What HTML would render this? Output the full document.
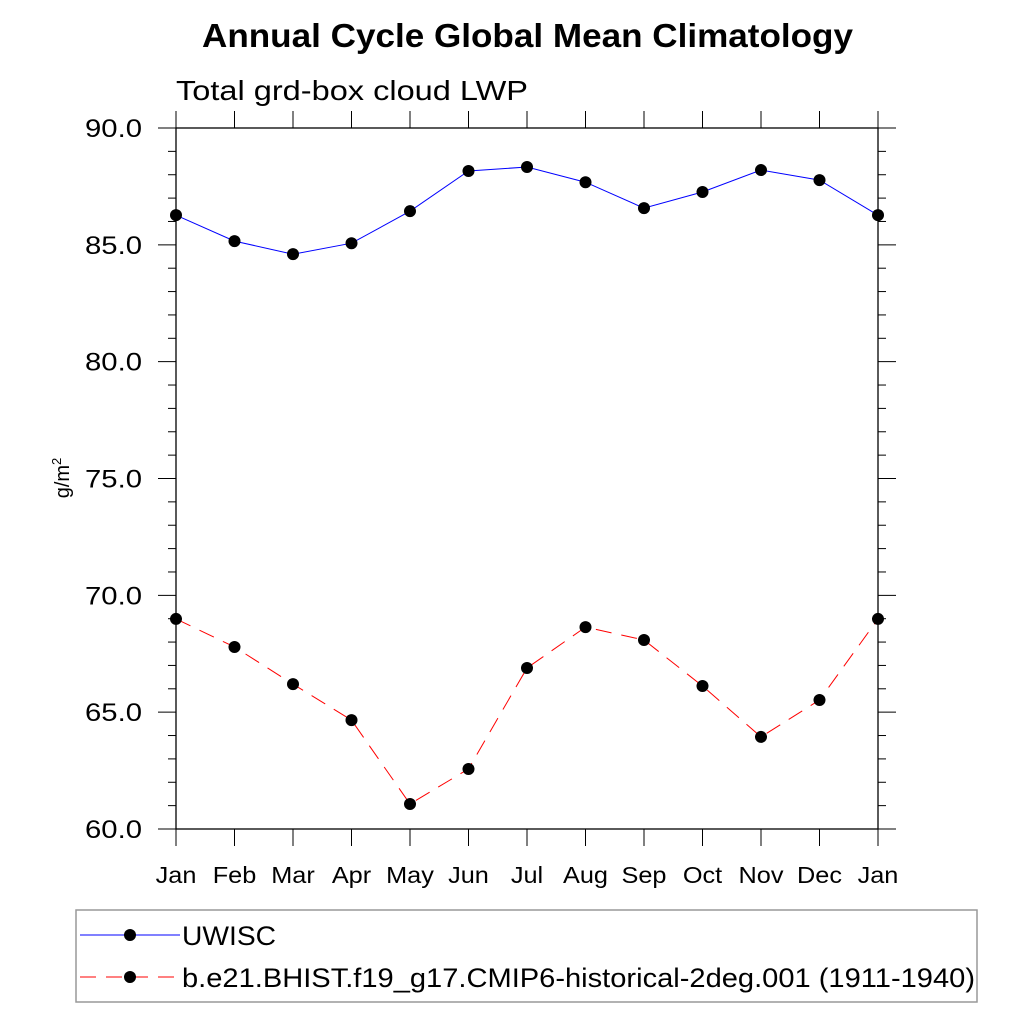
<!DOCTYPE html>
<html><head><meta charset="utf-8"><style>body{margin:0;background:#fff}svg{display:block;font-family:"Liberation Sans",sans-serif}</style></head>
<body>
<svg id="chart" width="1024" height="1024">
<text x="202" y="47" textLength="651" lengthAdjust="spacingAndGlyphs" font-size="33" font-weight="bold">Annual Cycle Global Mean Climatology</text>
<text x="176" y="100" textLength="352" lengthAdjust="spacingAndGlyphs" font-size="28">Total grd-box cloud LWP</text>
<text transform="translate(69,478) rotate(-90)" text-anchor="middle" font-size="20">g/m<tspan dy="-8" font-size="13">2</tspan></text>
<g id="axes"></g>
<g id="series"></g>
<rect x="76" y="910" width="901" height="92" fill="none" stroke="#999" stroke-width="1.5"/>
<g>
<line x1="80" y1="935" x2="180" y2="935" stroke="#00f" stroke-width="1"/>
<circle cx="130" cy="935" r="6" fill="#000"/>
<text x="182" y="945" textLength="94" lengthAdjust="spacingAndGlyphs" font-size="27">UWISC</text>
</g>
<g>
<line x1="80" y1="977" x2="180" y2="977" stroke="#f00" stroke-width="1" stroke-dasharray="16,10"/>
<circle cx="130" cy="977" r="6" fill="#000"/>
<text x="182" y="987" textLength="793" lengthAdjust="spacingAndGlyphs" font-size="27">b.e21.BHIST.f19_g17.CMIP6-historical-2deg.001 (1911-1940)</text>
</g>
</svg>
<script>
const months = ["Jan","Feb","Mar","Apr","May","Jun","Jul","Aug","Sep","Oct","Nov","Dec","Jan"];
const uwisc = [86.27,85.16,84.6,85.07,86.44,88.16,88.33,87.68,86.57,87.26,88.2,87.77,86.27];
const bhist = [68.99,67.79,66.2,64.66,61.07,62.57,66.89,68.64,68.09,66.12,63.94,65.52,68.99];
const yTicks = ["60.0","65.0","70.0","75.0","80.0","85.0","90.0"];
const NS="http://www.w3.org/2000/svg";
const X0=176,X1=878,Y0=829,Y1=128,YMIN=60,YMAX=90;
const xs=i=>X0+(X1-X0)*i/(months.length-1);
const ys=v=>Y0-(Y0-Y1)*(v-YMIN)/(YMAX-YMIN);
function mk(tag,at,parent){const e=document.createElementNS(NS,tag);for(const k in at)e.setAttribute(k,at[k]);parent.appendChild(e);return e;}
const ax=document.getElementById('axes');
const frame=mk('rect',{x:X0,y:Y1,width:X1-X0,height:Y0-Y1,fill:'none',stroke:'#000','stroke-width':1.3},ax);


for(let v=YMIN;v<=YMAX;v++){const y=ys(v);const maj=(v%5===0);const L=maj?18:8;
 mk('line',{x1:X0-L,y1:y,x2:X0,y2:y,stroke:'#000','stroke-width':1},ax);
 mk('line',{x1:X1,y1:y,x2:X1+L,y2:y,stroke:'#000','stroke-width':1},ax);}
yTicks.forEach(t=>{const el=mk('text',{x:85,y:ys(parseFloat(t))+9,'font-size':25,textLength:57,lengthAdjust:'spacingAndGlyphs'},ax);el.textContent=t;
 
 });
months.forEach((m,i)=>{const x=xs(i);
 mk('line',{x1:x,y1:Y0,x2:x,y2:Y0+17,stroke:'#000','stroke-width':1},ax);
 mk('line',{x1:x,y1:Y1,x2:x,y2:Y1-17,stroke:'#000','stroke-width':1},ax);
 const el=mk('text',{x:x,y:883,'text-anchor':'middle','font-size':23,transform:'translate('+x+',0) scale(1.1,1) translate('+(-x)+',0)'},ax);el.textContent=m;
 
 });
const sg=document.getElementById('series');
function series(vals,color,dash,name){
 const pl=mk('polyline',{points:vals.map((v,i)=>xs(i)+','+ys(v)).join(' '),fill:'none',stroke:color,'stroke-width':1,'stroke-dasharray':dash},sg);
 
 
 vals.forEach((v,i)=>{const c=mk('circle',{cx:xs(i),cy:ys(v),r:6,fill:'#000'},sg);
  
  });
}
series(uwisc,'#00f','none','uwisc');
series(bhist,'#f00','16,10','bhist');
</script>
</body></html>
